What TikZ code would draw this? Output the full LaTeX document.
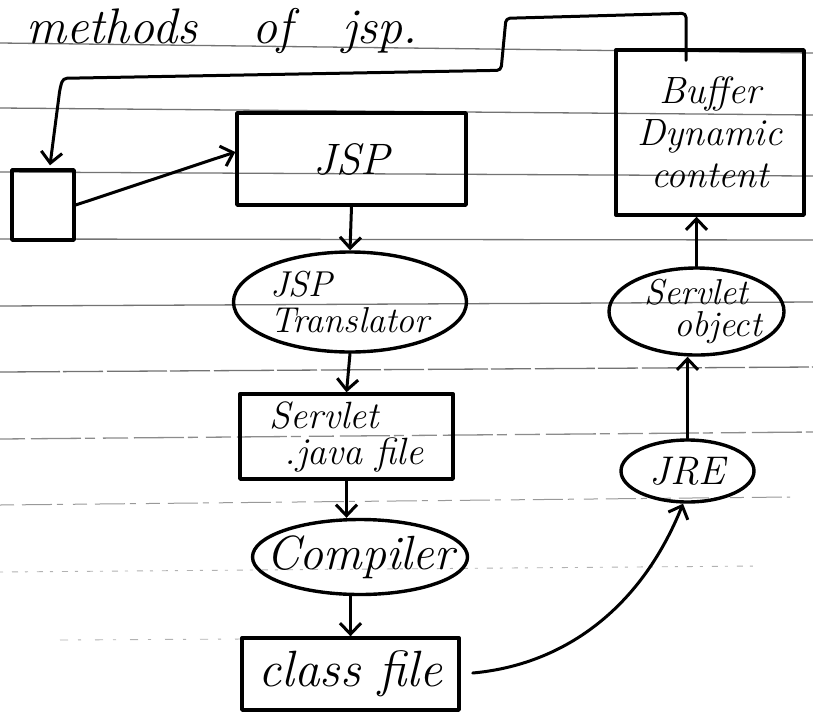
\documentclass[tikz,border=0pt]{standalone}
\usepackage{fontspec}
\usetikzlibrary{arrows.meta,shapes.geometric}
% hand-lettering size: font size and line spacing in pt
\newcommand\handsize[2]{\fontsize{#1}{#2}\selectfont\itshape}
\begin{document}
\begin{tikzpicture}[x=1pt,y=-1pt,
  ink/.style={line width=3.4pt, black, line join=round, line cap=round},
  rule/.style={line width=1.3pt, black!55},
  boxnode/.style={ink, draw, rectangle, inner sep=2pt},
  blob/.style={ink, draw, ellipse, inner sep=0pt},
  flow/.style={line width=3pt, black, line cap=round, line join=round,
    -{Straight Barb[length=11pt,width=21pt]}},
]
\fill[white] (0,0) rectangle (813,718);
\useasboundingbox (0,0) rectangle (813,718);

% ruled notebook lines, fading towards the bottom of the page
\draw[rule] (0,43) -- (813,53);
\draw[rule] (0,108) -- (813,115);
\draw[rule] (0,172) -- (813,176);
\draw[rule] (0,239) -- (813,240);
\draw[rule] (0,306) -- (813,302);
\draw[rule, dash pattern=on 60pt off 3pt on 40pt off 4pt] (0,372) -- (813,367);
\draw[rule, black!45, dash pattern=on 25pt off 6pt on 50pt off 4pt on 10pt off 8pt] (0,439) -- (813,432);
\draw[rule, black!40, line width=1pt, dash pattern=on 14pt off 8pt on 30pt off 5pt on 6pt off 10pt] (0,505) -- (790,497);
\draw[rule, black!30, line width=0.9pt, dash pattern=on 3pt off 9pt on 6pt off 7pt] (0,572) -- (760,566);
\draw[rule, black!30, line width=0.9pt, dash pattern=on 8pt off 10pt on 3pt off 14pt] (60,640) -- (245,639);

% heading
\node[anchor=base west, inner sep=0pt, font=\handsize{50}{54}] (title) at (26,43)
  {methods\hspace{1.1em}of\hspace{1em}jsp.};

% left column: request to class file
\node[boxnode, minimum width=62pt, minimum height=70pt] (src) at (43,205) {};
\node[boxnode, minimum width=229pt, minimum height=92pt, font=\handsize{44}{48}] (jsp) at (351.5,159) {JSP};
\node[blob, minimum width=233pt, minimum height=100pt,
  label={[align=left, font=\handsize{36}{36}]center:JSP\\Translator}] (trans) at (350,302) {};
\node[boxnode, minimum width=213pt, minimum height=85pt, align=left, font=\handsize{38}{36}] (javafile)
  at (346.5,436.5) {Servlet\\\hspace*{0.4em}.java file};
\node[blob, minimum width=215pt, minimum height=75pt,
  label={[font=\handsize{48}{50}]center:Compiler}] (compiler) at (360,557) {};
\node[boxnode, minimum width=217pt, minimum height=72pt, font=\handsize{51}{54}] (classfile) at (350.5,674) {class file};

% right column: runtime to response
\node[blob, minimum width=133pt, minimum height=62pt,
  label={[font=\handsize{40}{42}]center:JRE}] (jre) at (687.5,471) {};
\node[blob, minimum width=175pt, minimum height=87pt,
  label={[align=center, font=\handsize{36}{32}]center:Servlet\\\hspace*{1.2em}object}] (sobj) at (696.5,311.5) {};
\node[boxnode, minimum width=188pt, minimum height=165pt, align=center, font=\handsize{38}{42}] (buffer)
  at (710,132.5) {Buffer\\Dynamic\\content};

% connectors
\draw[flow] (src.east) -- ([shift={(0,-7)}]jsp.west);
\draw[flow] (jsp.south) -- (trans.north);
\draw[flow] (trans.south) -- (javafile.north);
\draw[flow] (javafile.south) -- (javafile.south |- compiler.north);
\draw[flow] (classfile.north |- compiler.south) -- (classfile.north);
\draw[flow] ([shift={(12,-1)}]classfile.east) .. controls +(89,-8) and +(-43,107) .. ([shift={(-4.5,0)}]jre.south);
\draw[flow] (jre.north) -- (jre.north |- sobj.south);
\draw[flow] (sobj.north) -- (sobj.north |- buffer.south);
\draw[flow, rounded corners=4pt] ([shift={(-24,12)}]buffer.north) -- ++(0,-47) -- ++(-180,5)
  -- ++(-5,52) -- ++(-438,8) -- ++(-3,10) -- ([shift={(7,-3)}]src.north);
\end{tikzpicture}
\end{document}
